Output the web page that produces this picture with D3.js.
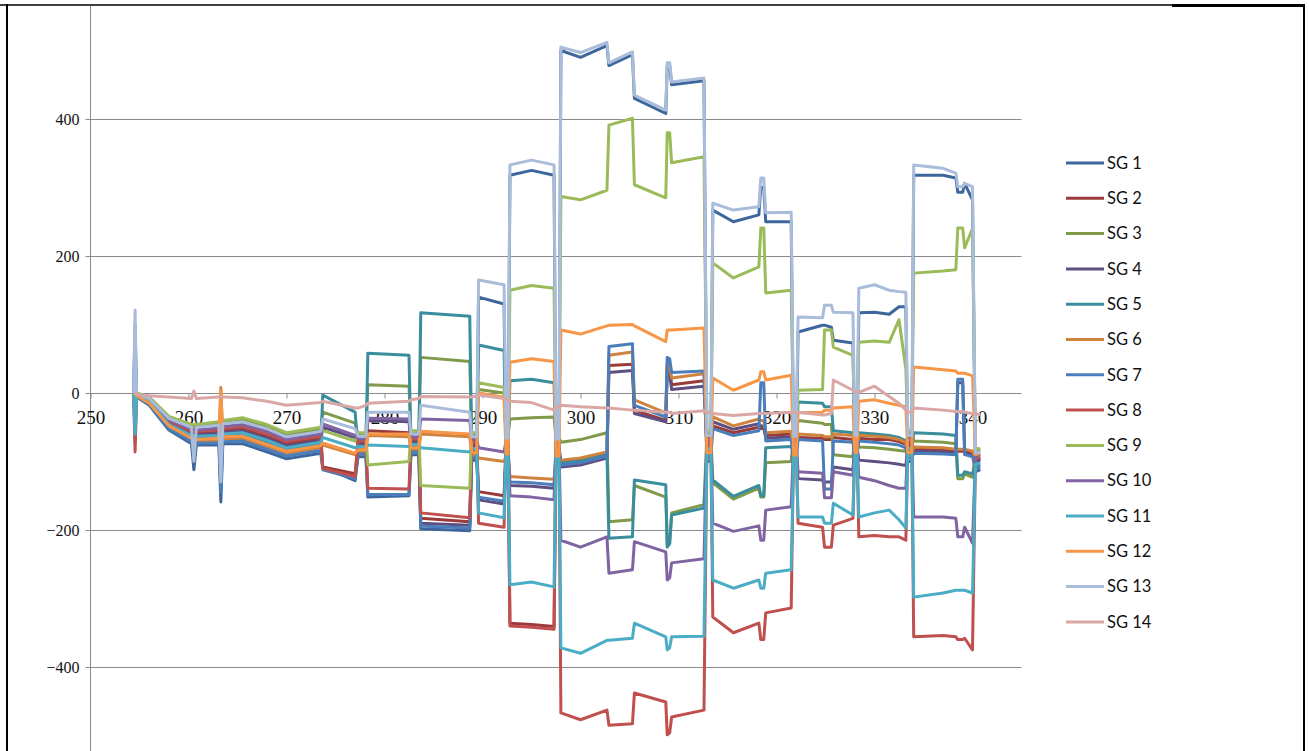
<!DOCTYPE html>
<html><head><meta charset="utf-8">
<script src="https://cdn.jsdelivr.net/npm/d3@7"></script>
<style>html,body{margin:0;padding:0;background:#fff;overflow:hidden}</style>
</head><body>
<svg id="chart" width="1309" height="751"></svg>
<script>
// Sample times (s) shared by all strain-gauge channels
const times = [254.4,254.55,254.7,256.0,258.0,260.3,260.55,260.8,263.1,263.3,263.5,265.5,268.0,270.0,273.5,
  273.7,277.0, 277.3,278.1, 278.3,282.5, 282.7,283.5, 283.7,288.7, 288.9,289.4, 289.6,292.2, 292.4,292.6,
  292.8,295.0,297.3, 297.5,297.8, 298.0,300.0,302.7, 302.9,305.3, 305.5,308.7, 308.85,309.1, 309.3,312.6,
  312.9,313.3, 313.5,315.6,318.2, 318.4,318.7, 318.9,321.5, 321.75,322.0, 322.2,324.7, 324.9,325.6,
  325.8,327.8, 328.0,328.2, 328.4,330.0,331.5,332.5,333.2, 333.4,333.8, 334.0,337.0,338.3, 338.5,339.0,
  339.2,340.0, 340.3,340.8];

// Strain readings per gauge
const sg1 = [0,80,-6,-18,-54,-74,-112,-76,-76,-159,-74,-74,-86,-96,-88,-108,-128,-93,-93,-152,-150,-90,-90,-198,-201,-98,-98,140,130,-100,-100,318,325,318,-105,-105,500,490,507,478,494,430,408,478,478,450,456,-100,-100,267,250,260,300,300,250,250,-105,-105,89,99,99,96,77,73,-100,-100,117,118,115,126,126,-100,-100,318,318,314,293,293,306,282,-115,-112];
const sg2 = [0,0,-3,-11,-42,-58,-58,-59,-56,-56,-54,-52,-63,-74,-66,-108,-118,-73,-73,-55,-58,-70,-70,-183,-188,-75,-75,-144,-150,-77,-77,-336,-338,-341,-79,-79,-100,-97,-88,40,42,-25,-40,38,35,12,18,-74,-74,-48,-58,-50,-52,-52,-62,-60,-76,-76,-65,-66,-68,-68,-65,-68,-74,-74,-66,-68,-68,-71,-75,-74,-74,-82,-83,-85,-85,-85,-85,-88,-98,-96];
const sg3 = [0,0,0,-7,-36,-48,-48,-48,-45,-45,-43,-39,-49,-61,-53,-28,-44,-61,-61,12,10,-58,-58,52,46,-61,-61,5,0,-63,-63,-38,-36,-35,-64,-64,-72,-68,-58,-188,-185,-135,-152,-222,-218,-175,-163,-59,-59,-131,-155,-139,-152,-152,-102,-100,-60,-60,-40,-44,-46,-46,-90,-93,-59,-59,-79,-80,-82,-84,-85,-59,-59,-70,-72,-74,-125,-125,-118,-123,-85,-83];
const sg4 = [0,0,-3,-12,-44,-60,-60,-61,-59,-59,-57,-55,-66,-77,-69,-50,-65,-75,-75,-40,-42,-72,-72,-190,-193,-78,-78,-156,-162,-80,-80,-135,-136,-139,-82,-82,-108,-105,-95,30,33,-30,-42,30,28,5,10,-77,-77,-42,-53,-45,-48,-48,-66,-64,-80,-80,-125,-127,-130,-130,-108,-112,-77,-77,-98,-100,-102,-104,-106,-77,-77,-85,-86,-88,15,15,-88,-90,-100,-98];
const sg5 = [0,-73,-4,-14,-47,-64,-64,-66,-64,-64,-62,-61,-72,-83,-75,-3,-28,-81,-81,58,55,-78,-78,117,112,-84,-84,70,62,-86,-86,18,20,15,-89,-89,-102,-99,-90,-212,-210,-127,-134,-225,-220,-178,-168,-84,-84,-127,-151,-135,-150,-150,-80,-78,-88,-88,-13,-15,-20,-20,-55,-58,-84,-84,-58,-60,-62,-65,-70,-84,-84,-58,-60,-62,-120,-120,-115,-118,-107,-105];
const sg6 = [0,0,-5,-16,-50,-68,-68,-70,-69,8,-67,-66,-78,-88,-80,-76,-90,-86,-86,-62,-64,-83,-83,-60,-64,-90,-90,-95,-100,-92,-92,-122,-124,-126,-96,-96,-98,-95,-86,55,60,-10,-29,45,40,22,28,-91,-91,-35,-48,-38,-40,-40,-58,-56,-95,-95,-60,-62,-64,-64,-60,-62,-91,-91,-62,-63,-65,-68,-72,-91,-91,-79,-80,-82,-82,-82,-82,-85,-95,-93];
const sg7 = [0,100,-5,-17,-52,-71,-95,-73,-73,-145,-71,-70,-82,-92,-84,-112,-125,-89,-89,-148,-148,-86,-86,-194,-197,-94,-94,-152,-158,-96,-96,-130,-131,-134,-100,-100,-105,-102,-92,68,72,-18,-35,52,50,30,32,-95,-95,-52,-62,-55,15,15,-70,-68,-100,-100,-68,-70,-140,-140,-70,-72,-95,-95,-70,-72,-74,-76,-80,-95,-95,-88,-89,-90,20,20,-90,-93,-110,-108];
const sg8 = [0,-86,-2,-10,-41,-56,-56,-56,-54,-54,-52,-49,-60,-71,-63,-110,-122,-70,-70,-139,-140,-67,-67,-175,-182,-72,-72,-190,-196,-74,-74,-340,-342,-345,-76,-76,-467,-477,-463,-485,-483,-438,-451,-499,-496,-473,-463,-71,-71,-327,-350,-336,-360,-360,-321,-314,-73,-73,-190,-196,-225,-225,-193,-183,-71,-71,-210,-208,-210,-210,-215,-71,-71,-356,-354,-356,-360,-360,-358,-375,-96,-94];
const sg9 = [0,0,0,-6,-34,-46,-46,-46,-42,-42,-40,-36,-46,-58,-50,-55,-70,-58,-58,-105,-100,-55,-55,-135,-139,-58,-58,15,8,-60,-60,150,157,153,-60,-60,287,282,296,391,401,304,285,380,380,336,345,-55,-55,190,168,184,241,241,146,150,-55,-55,4,5,92,92,67,55,-55,-55,74,76,74,107,35,-55,-55,175,178,180,241,241,212,240,-80,-82];
const sg10 = [0,0,-2,-9,-39,-53,-53,-54,-51,-51,-49,-46,-56,-68,-60,-45,-62,-67,-67,-37,-38,-64,-64,-38,-40,-68,-68,-80,-86,-70,-70,-150,-152,-156,-71,-71,-215,-225,-210,-263,-258,-217,-232,-273,-270,-248,-242,-66,-66,-190,-202,-194,-215,-215,-171,-166,-68,-68,-115,-117,-153,-153,-115,-120,-66,-66,-123,-128,-135,-139,-139,-66,-66,-181,-181,-183,-210,-210,-196,-219,-92,-90];
const sg11 = [0,-60,-3,-13,-46,-62,-62,-63,-62,-62,-60,-58,-69,-80,-72,-65,-80,-78,-78,-76,-78,-75,-75,-80,-86,-81,-81,-175,-182,-83,-83,-280,-276,-283,-86,-86,-372,-380,-361,-361,-358,-336,-356,-375,-372,-356,-355,-81,-81,-273,-285,-273,-285,-285,-263,-258,-84,-84,-181,-181,-190,-190,-161,-178,-81,-81,-181,-175,-171,-185,-197,-81,-81,-298,-292,-288,-288,-288,-288,-292,-104,-102];
const sg12 = [0,0,-4,-15,-48,-66,-66,-68,-66,3,-64,-63,-75,-85,-77,-73,-88,-83,-83,-60,-60,-80,-80,-56,-60,-87,-87,0,-6,-89,-89,45,50,46,-92,-92,92,86,98,99,100,98,75,92,92,92,95,-87,-87,22,4,19,31,31,19,26,-91,-91,-29,-28,-25,-25,-22,-20,-87,-87,-12,-10,-15,-18,-20,-87,-87,38,34,32,29,29,29,25,-90,-88];
const sg13 = [0,121,-1,-8,-37,-50,-100,-50,-47,-130,-45,-42,-52,-64,-56,-38,-52,-63,-63,-28,-28,-60,-60,-18,-28,-64,-64,165,158,-66,-66,333,340,333,-67,-67,505,497,512,482,498,435,413,482,482,454,460,-62,-62,277,267,272,314,314,263,264,-63,-63,111,110,128,128,118,117,-62,-62,153,158,150,148,147,-62,-62,333,328,321,301,301,306,301,-88,-86];
const sg14 = [0,0,-2,-4,-6,-8,3,-8,-6,-6,-6,-7,-12,-18,-14,-12,-22,-22,-18,-15,-12,-10,-8,-5,-6,-6,-4,-3,-8,-10,-10,-12,-14,-25,-22,-20,-18,-20,-22,-22,-25,-25,-28,-28,-28,-30,-26,-28,-28,-30,-33,-30,-30,-30,-30,-28,-28,-28,-28,-32,-32,-30,19,4,2,2,1,10,-5,-15,-25,-28,-28,-22,-25,-27,-27,-27,-28,-30,-30,-32];

const seriesNames = ["SG 1","SG 2","SG 3","SG 4","SG 5","SG 6","SG 7","SG 8","SG 9","SG 10","SG 11","SG 12","SG 13","SG 14"];
const seriesValues = [sg1,sg2,sg3,sg4,sg5,sg6,sg7,sg8,sg9,sg10,sg11,sg12,sg13,sg14];
const seriesColors = ["#3d679c","#9b3b39","#7f9a48","#5e4f80","#3a8d9d","#d0823f","#4a7ebb","#c0504d","#9bbb59","#8064a2","#4bacc6","#f79646","#a9bcd9","#d9a8a6"];
const xTicks = [250,260,270,280,290,300,310,320,330,340];
const yTicks = [-400,-200,0,200,400];

const W = 1309, H = 751;
const svg = d3.select("#chart");

const x = d3.scaleLinear().domain([250, 345]).range([90.5, 1021.5]);
const y = d3.scaleLinear().domain([-600, 600]).range([804, -18]);

// Frame around the chart
const frame = svg.append("g").attr("stroke", "#000").attr("fill", "none");
frame.append("line").attr("x1", 0).attr("x2", W - 4).attr("y1", 5).attr("y2", 5).attr("stroke-width", 1.5);
frame.append("line").attr("x1", 1172).attr("x2", W - 4).attr("y1", 5.5).attr("y2", 5.5).attr("stroke-width", 3);
frame.append("line").attr("x1", 7).attr("x2", 7).attr("y1", 4).attr("y2", H).attr("stroke-width", 2);
frame.append("line").attr("x1", W - 5).attr("x2", W - 5).attr("y1", 4).attr("y2", H).attr("stroke-width", 2);

// Horizontal gridlines
svg.append("g").selectAll("line").data(yTicks.filter(v => v !== 0)).join("line")
  .attr("x1", x(250)).attr("x2", x(345))
  .attr("y1", d => Math.round(y(d)) + 0.5).attr("y2", d => Math.round(y(d)) + 0.5)
  .attr("stroke", "#8a8a8a").attr("stroke-width", 1);

// Y axis (left)
const yAxis = d3.axisLeft(y).tickValues(yTicks).tickSize(5).tickPadding(6).tickFormat(d3.format("d"));
const gy = svg.append("g").attr("transform", `translate(${x(250)},0)`).call(yAxis);
gy.select(".domain").remove();
gy.append("line").attr("x1", 0).attr("x2", 0).attr("y1", 6).attr("y2", H).attr("stroke", "#8a8a8a");
gy.selectAll(".tick line").attr("stroke", "#8a8a8a");
gy.selectAll(".tick text").attr("font-family", "'Liberation Serif', serif").attr("font-size", 16).attr("fill", "#111");

// X axis along zero
const xAxis = d3.axisBottom(x).tickValues(xTicks).tickSize(5).tickPadding(12).tickFormat(d3.format("d"));
const gx = svg.append("g").attr("transform", `translate(0,${Math.round(y(0)) + 0.5})`).call(xAxis);
gx.select(".domain").attr("d", `M${x(250)},0H${x(345)}`).attr("stroke", "#8a8a8a");
gx.selectAll(".tick line").attr("stroke", "#8a8a8a");
gx.selectAll(".tick text").attr("font-family", "'Liberation Serif', serif").attr("font-size", 19).attr("fill", "#111");

// Series lines
const line = d3.line().x((d, i) => x(times[i])).y(d => y(d));
svg.append("g").attr("fill", "none").attr("stroke-width", 3).attr("stroke-linejoin", "round")
  .selectAll("path").data(seriesValues).join("path")
  .attr("stroke", (d, i) => seriesColors[i])
  .attr("d", line);

// Legend
const legend = svg.append("g");
const rows = legend.selectAll("g").data(seriesNames).join("g")
  .attr("transform", (d, i) => `translate(1066,${163 + i * 35.3})`);
rows.append("line").attr("x1", 0).attr("x2", 38).attr("y1", 0).attr("y2", 0)
  .attr("stroke", (d, i) => seriesColors[i]).attr("stroke-width", 3);
rows.append("text").attr("x", 41).attr("dy", "0.35em").text(d => d)
  .attr("font-family", "Lato, 'Noto Sans', sans-serif").attr("font-size", 16.5).attr("fill", "#111");
</script>
</body></html>
